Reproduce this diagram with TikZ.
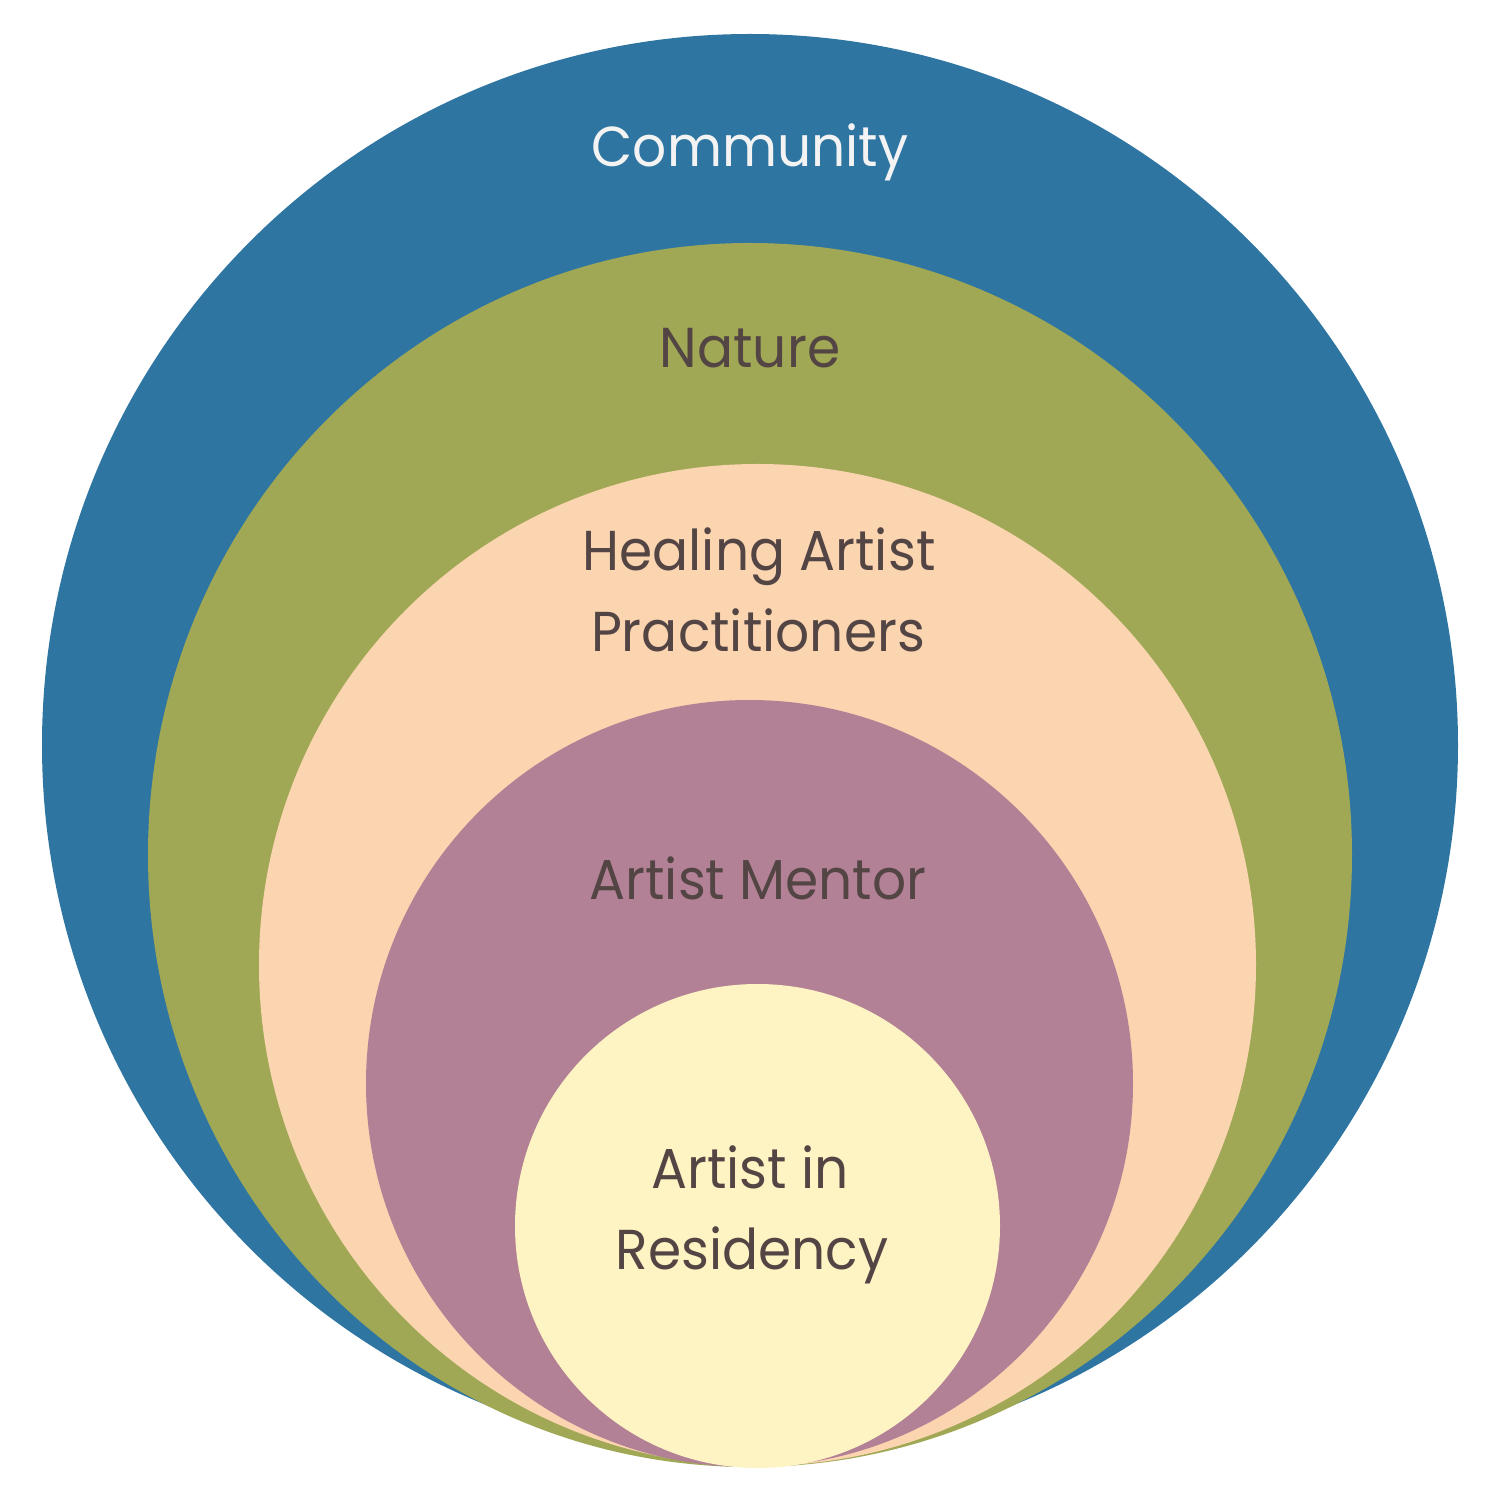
\documentclass[tikz,border=0pt]{standalone}
\usepackage{fontspec}
\setmainfont[FakeStretch=0.95]{Poppins}
\definecolor{cblue}{HTML}{2E75A2}
\definecolor{cgreen}{HTML}{A0A855}
\definecolor{cpeach}{HTML}{FBD4B0}
\definecolor{cmauve}{HTML}{B38196}
\definecolor{cyellow}{HTML}{FEF3C3}
\definecolor{ctext}{HTML}{544545}
\definecolor{clight}{HTML}{F3F3F3}
\begin{document}
\begin{tikzpicture}[
  lbl/.style={anchor=base, inner sep=0pt, text=ctext, font=\fontsize{16}{19}\selectfont},
  lbllight/.style={lbl, text=clight}
]
\useasboundingbox (0,0) rectangle (15,15);
\fill[white] (0,0) rectangle (15,15);
\fill[cblue]   (7.50,7.55)  ellipse [x radius=7.08cm, y radius=7.11cm];
\fill[cgreen]  (7.50,6.45)  ellipse [x radius=6.02cm, y radius=6.12cm];
\fill[cpeach]  (7.575,5.35) ellipse [x radius=4.985cm, y radius=5.01cm];
\fill[cmauve]  (7.495,4.165) ellipse [x radius=3.835cm, y radius=3.835cm];
\fill[cyellow] (7.575,2.74) ellipse [x radius=2.425cm, y radius=2.42cm];
\node[lbllight] (community) at (7.50,13.33) {Community};
\node[lbl] (nature) at (7.50,11.32) {Nature};
\node[lbl] (healing) at (7.59,9.29) {Healing Artist};
\node[lbl] (practitioners) at (7.58,8.48) {Practitioners};
\node[lbl] (mentor) at (7.58,6.00) {Artist Mentor};
\node[lbl] (artistin) at (7.50,3.11) {Artist in};
\node[lbl] (residency) at (7.52,2.30) {Residency};
\end{tikzpicture}
\end{document}
